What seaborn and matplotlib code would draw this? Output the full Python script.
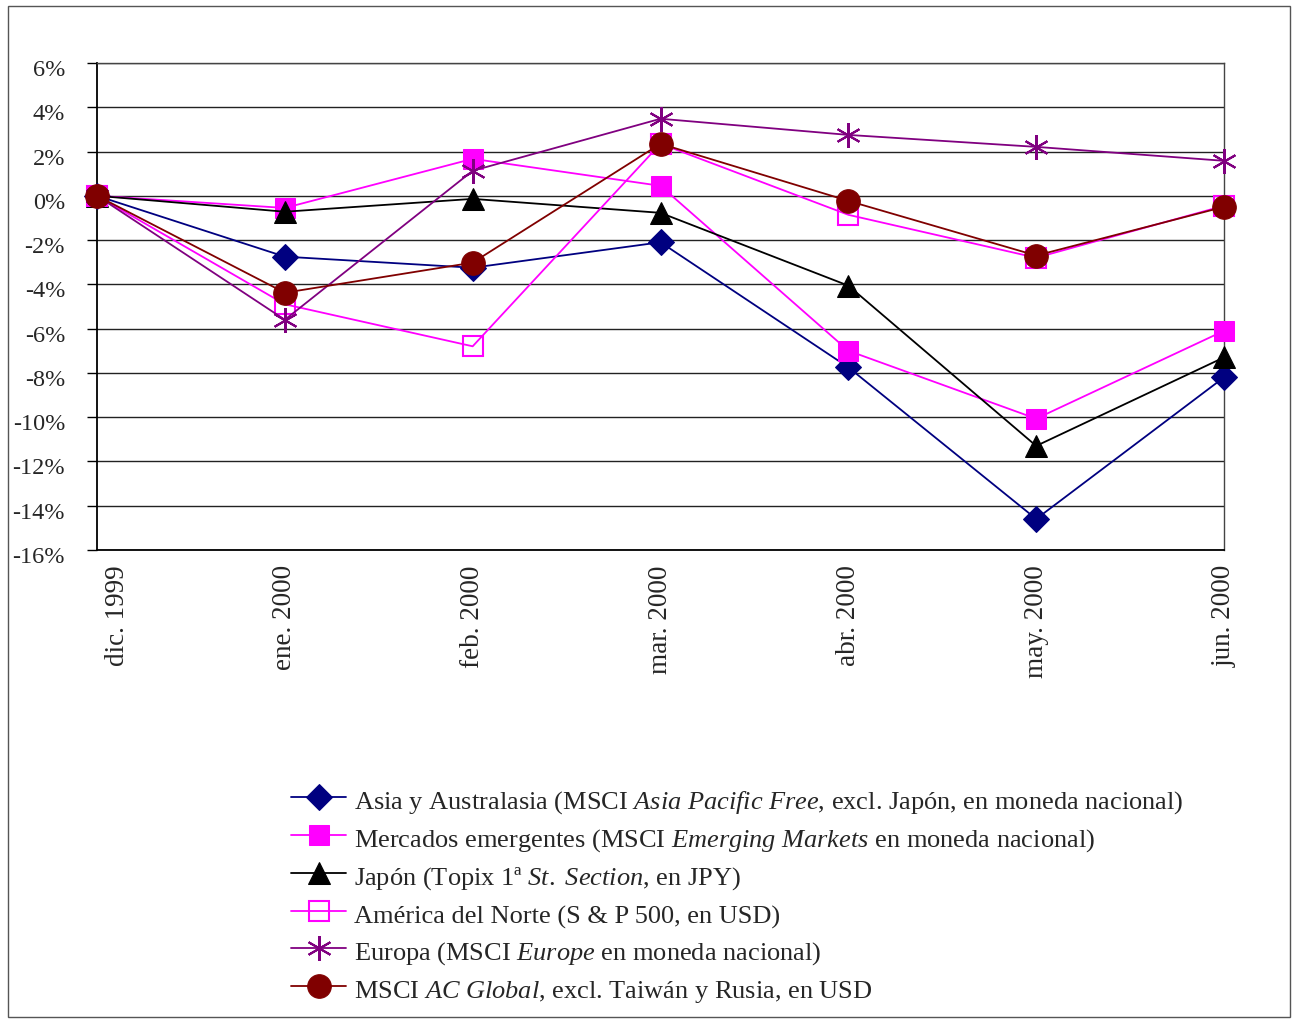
import numpy as np
import pandas as pd
import matplotlib
matplotlib.use("Agg")
import matplotlib.pyplot as plt
import matplotlib.transforms as mtransforms
import seaborn as sns
from matplotlib.patches import Rectangle

# data (% change)
months = ["dic. 1999", "ene. 2000", "feb. 2000", "mar. 2000", "abr. 2000", "may. 2000", "jun. 2000"]
asia = [0.0, -2.75, -3.25, -2.1, -7.75, -14.6, -8.2]
emergentes = [0.0, -0.55, 1.67, 0.45, -7.0, -10.07, -6.1]
japon = [0.0, -0.72, -0.14, -0.77, -4.06, -11.3, -7.3]
norteamerica = [0.0, -4.9, -6.8, 2.35, -0.86, -2.8, -0.45]
europa = [0.0, -5.6, 1.13, 3.48, 2.75, 2.21, 1.58]
msci_ac = [0.0, -4.38, -3.02, 2.35, -0.23, -2.7, -0.5]

yticks = [6, 4, 2, 0, -2, -4, -6, -8, -10, -12, -14, -16]
ytick_labels = ["6%", "4%", "2%", "0%", "-2%", "-4%", "-6%", "-8%", "-10%", "-12%", "-14%", "-16%"]

labels = [
    r"Asia y Australasia (MSCI $\mathit{Asia\ Pacific\ Free}$, excl. Japón, en moneda nacional)",
    r"Mercados emergentes (MSCI $\mathit{Emerging\ Markets}$ en moneda nacional)",
    r"Japón (Topix 1ª $\mathit{St.\ Section}$, en JPY)",
    r"América del Norte (S & P 500, en USD)",
    r"Europa (MSCI $\mathit{Europe}$ en moneda nacional)",
    r"MSCI $\mathit{AC\ Global}$, excl. Taiwán y Rusia, en USD",
]

sns.set_style("white")
plt.rcParams["font.family"] = ["Liberation Serif", "DejaVu Serif"]
plt.rcParams["mathtext.fontset"] = "custom"
plt.rcParams["mathtext.rm"] = "Liberation Serif"
plt.rcParams["mathtext.it"] = "Liberation Serif:italic"
plt.rcParams["axes.unicode_minus"] = False

fig = plt.figure(figsize=(12.95, 10.19), dpi=100)
ax = fig.add_axes([0.0749, 0.4603, 0.8703, 0.4779])

x = np.arange(len(months))

# one style per series
styles = [
    (asia, dict(color="#000080", marker="D", markersize=13, markerfacecolor="#000080", markeredgecolor="#000080")),
    (emergentes, dict(color="#FF00FF", marker="s", markersize=14, markerfacecolor="#FF00FF", markeredgecolor="#FF00FF")),
    (japon, dict(color="black", marker="^", markersize=16, markerfacecolor="black", markeredgecolor="black")),
    (norteamerica, dict(color="#FF00FF", marker="s", markersize=14, markerfacecolor="none", markeredgecolor="#FF00FF", markeredgewidth=1.5)),
    (europa, dict(color="#800080", marker=(6, 2, 0), markersize=18, markeredgecolor="#800080", markeredgewidth=1.5)),
    (msci_ac, dict(color="#800000", marker="o", markersize=17, markerfacecolor="#800000", markeredgecolor="#800000")),
]

for (vals, kw), lab in zip(styles, labels):
    sns.lineplot(x=x, y=vals, ax=ax, label=lab, linewidth=1.3, clip_on=False, zorder=3, **kw)

ax.set_xlim(0, len(months) - 1)
ax.set_ylim(-16, 6)
ax.set_yticks(yticks)
ax.set_yticklabels(ytick_labels, fontsize=17.5)
ax.set_xticks(x)
ax.set_xticklabels(months, rotation=90, fontsize=19.5)
ax.tick_params(axis="y", direction="out", length=7, width=1, color="black", pad=16, left=True)
ax.tick_params(axis="x", length=0, pad=11)

# Excel-like label offsets: y labels sit a bit low, first month label nudged right
down = mtransforms.ScaledTranslation(0, -5 / 100, fig.dpi_scale_trans)
for t in ax.get_yticklabels():
    t.set_transform(t.get_transform() + down)
right = mtransforms.ScaledTranslation(21 / 100, 0, fig.dpi_scale_trans)
first = ax.get_xticklabels()[0]
first.set_transform(first.get_transform() + right)

ax.grid(axis="y", color="#222222", linewidth=1)
ax.grid(axis="x", visible=False)
for side in ["left", "bottom"]:
    ax.spines[side].set_color("black")
    ax.spines[side].set_linewidth(1.3)
for side in ["top", "right"]:
    ax.spines[side].set_color("#444444")
    ax.spines[side].set_linewidth(1)

ax.get_legend().remove()
handles, labs = ax.get_legend_handles_labels()
fig.legend(handles, labs, loc="upper left", bbox_to_anchor=(0.2165, 0.240),
           frameon=False, fontsize=19, handlelength=2.1, handletextpad=0.3,
           handleheight=1.35, labelspacing=0.27, borderaxespad=0)

# outer frame
fig.patches.append(Rectangle((0.006, 0.002), 0.99, 0.992, transform=fig.transFigure,
                             fill=False, edgecolor="#555555", linewidth=1))

fig.savefig("out.png", dpi=100)
